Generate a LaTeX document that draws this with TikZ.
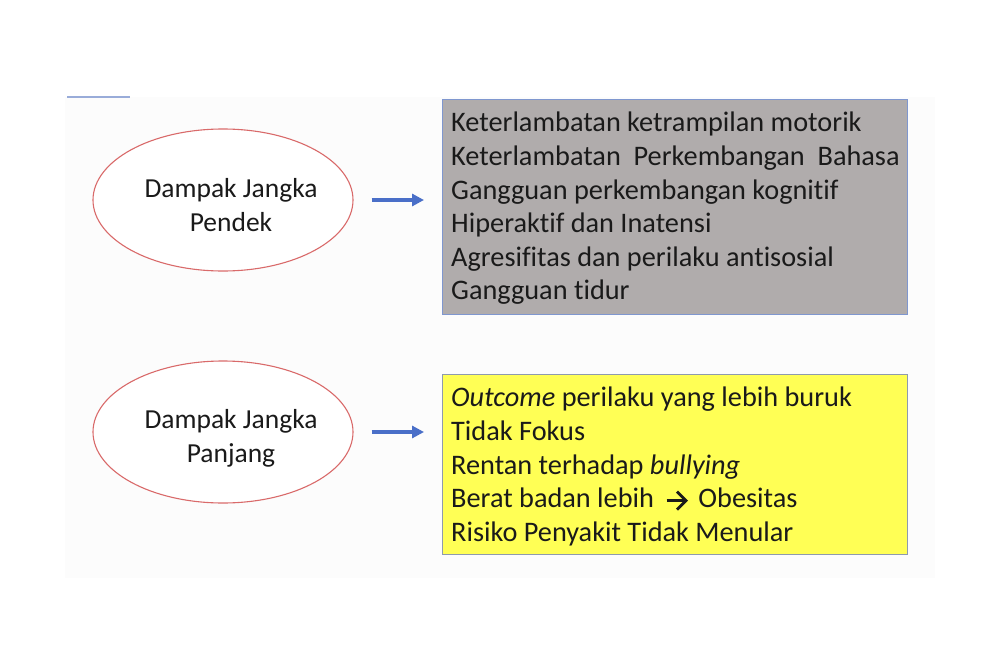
\documentclass[tikz,border=0pt]{standalone}
\usepackage{fontspec}
\setmainfont{Carlito}[Ligatures={NoCommon}]
\usepackage{tikz}
\usetikzlibrary{shapes.geometric,arrows.meta,positioning}
\definecolor{rim}{HTML}{D96A6A}
\definecolor{arrowblue}{HTML}{4A6FC8}
\definecolor{boxgray}{HTML}{B0ACAC}
\definecolor{boxrim}{HTML}{7F97CF}
\definecolor{boxyellow}{HTML}{FFFF55}
\definecolor{yrim}{HTML}{8E9AAE}
\definecolor{slide}{HTML}{FCFCFC}
\definecolor{txt}{HTML}{1A1A1A}
\tikzset{
  bubble/.style={ellipse, draw=rim, line width=1.1pt, fill=white,
    minimum width=260pt, minimum height=142pt, inner sep=0pt},
  bubtext/.style={align=center, inner sep=0pt, text=txt,
    font=\fontsize{27.5}{33.5}\selectfont},
  panel/.style={rectangle, line width=1.3pt, anchor=north west, inner sep=0pt},
  items/.style={anchor=north west, align=left, inner sep=0pt, text=txt,
    font=\fontsize{28.3}{33.6}\selectfont},
  go/.style={draw=arrowblue, line width=3.2pt, -{Triangle[length=12pt,width=12pt]}},
}
\newcommand{\thenarrow}{\tikz[x=1pt,y=1pt,baseline=-7pt]{%
  \draw[txt, line width=2.9pt] (0,0) -- (19,0);
  \draw[txt, line width=2.9pt, line join=miter] (10.5,-9) -- (19.5,0) -- (10.5,9);}}
\begin{document}
\begin{tikzpicture}[x=1pt,y=-1pt]
  \useasboundingbox (0,0) rectangle (1000,666);
  \fill[slide] (65,97) rectangle (935,578);
  \draw[draw=boxrim!80, line width=1.8pt] (67,97) -- (130,97);
  % short-term
  \node[bubble] (e1) at (223,200) {};
  \node[bubtext] (l1) at ([xshift=8pt,yshift=-8pt]e1.center) {\strut Dampak Jangka\\\strut Pendek};
  \node[panel, draw=boxrim, fill=boxgray, minimum width=465pt, minimum height=215pt] (b1) at (442,99) {};
  \node[items] (t1) at (451,112) {Keterlambatan ketrampilan motorik\\
    Keterlambatan\ \ Perkembangan\ \ Bahasa\\
    Gangguan perkembangan kognitif\\
    Hiperaktif dan Inatensi\\
    Agresifitas dan perilaku antisosial\\
    Gangguan tidur};
  \draw[go] ([xshift=18pt]e1.east) -- ([xshift=-18pt]e1.east -| b1.west);
  % long-term
  \node[bubble] (e2) at (223,432) {};
  \node[bubtext] (l2) at ([xshift=8pt,yshift=-7pt]e2.center) {\strut Dampak Jangka\\\strut Panjang};
  \node[panel, draw=yrim, fill=boxyellow, minimum width=465pt, minimum height=180pt] (b2) at (442,374) {};
  \node[items] (t2) at (451,387) {\textit{Outcome} perilaku yang lebih buruk\\
    Tidak Fokus\\
    Rentan terhadap \textit{bullying}\\
    Berat badan lebih\hspace{11pt}\thenarrow\hspace{11pt}Obesitas\\
    Risiko Penyakit Tidak Menular};
  \draw[go] ([xshift=18pt]e2.east) -- ([xshift=-18pt]e2.east -| b2.west);
\end{tikzpicture}
\end{document}
